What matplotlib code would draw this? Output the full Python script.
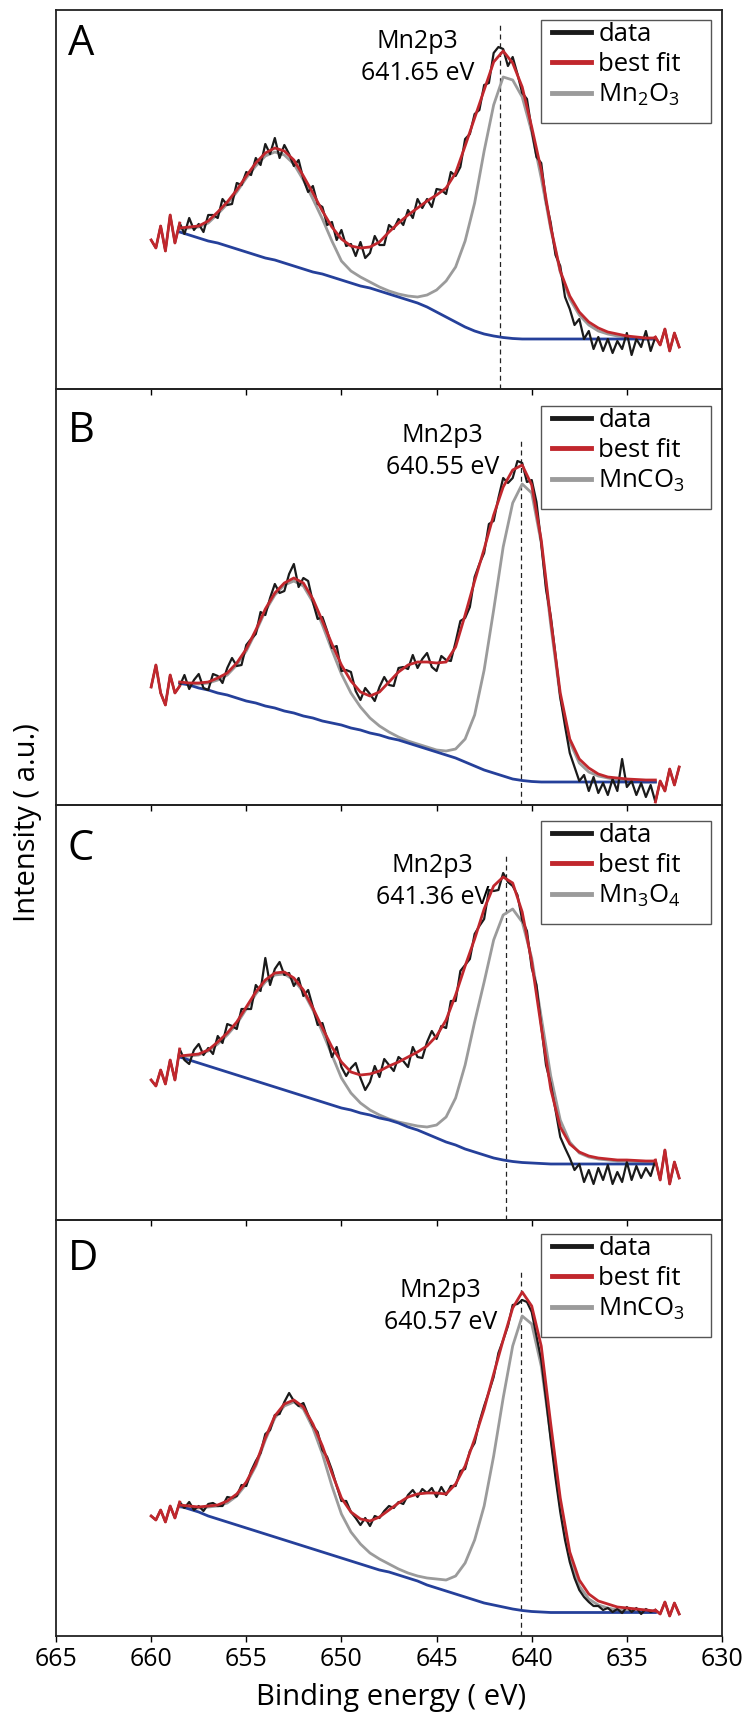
import numpy as np
import matplotlib
matplotlib.use("Agg")
import matplotlib.pyplot as plt
from matplotlib.lines import Line2D
from matplotlib.patches import Rectangle

plt.rcParams['font.family'] = ['Open Sans', 'DejaVu Sans']
plt.rcParams['mathtext.fontset'] = 'custom'
plt.rcParams['mathtext.rm'] = 'Open Sans'
plt.rcParams['mathtext.it'] = 'Open Sans:italic'

# sampling grids (binding energy, eV)
fit_energy = np.arange(658.5, 633.4, -0.5)     # 51 points, fitted curves
data_energy = np.arange(660.0, 632.2, -0.25)   # 112 points, measured spectrum

# ---------------- panel A : Mn2O3 ----------------
data_A = [149, 141, 163, 138, 174, 146, 166, 155,
          171, 159, 165, 157, 174, 174, 171, 190,
          184, 185, 206, 204, 217, 214, 231, 224,
          245, 235, 251, 231, 244, 235, 223, 229,
          210, 197, 203, 185, 182, 164, 167, 149,
          159, 143, 145, 133, 147, 131, 136, 153,
          144, 144, 164, 160, 170, 164, 179, 171,
          190, 181, 190, 182, 200, 199, 195, 217,
          213, 222, 250, 255, 275, 279, 304, 306,
          336, 342, 340, 323, 332, 315, 296, 290,
          259, 232, 226, 188, 166, 134, 123, 92,
          80, 64, 70, 50, 58, 40, 52, 38,
          50, 36, 48, 40, 56, 34, 50, 42,
          58, 38, 52, 44, 60, 38, 56, 42]
fit_A = [161, 162, 163, 168, 177, 187, 199, 213, 226, 236,
         241, 238, 229, 213, 196, 178, 162, 150, 143, 141,
         142, 147, 157, 166, 174, 181, 188, 194, 201, 216,
         243, 271, 299, 327, 338, 326, 302, 262, 219, 162,
         118, 93, 77, 67, 61, 57, 55, 53, 52, 51,
         51]
comp_A = [160, 161, 162, 166, 175, 185, 197, 211, 223, 233,
          237, 234, 225, 209, 190, 170, 148, 128, 118, 112,
          107, 102, 98, 95, 93, 92, 94, 99, 108, 122,
          148, 186, 238, 284, 312, 309, 292, 257, 211, 160,
          117, 90, 74, 64, 58, 55, 53, 52, 51, 50,
          50]
bg_A = [157, 154, 151, 148, 146, 143, 140, 137, 134, 131,
        129, 126, 123, 120, 117, 115, 112, 109, 106, 103,
        101, 98, 95, 92, 89, 86, 82, 77, 72, 67,
        62, 58, 55, 53, 51.5, 50.5, 50, 50, 50, 50,
        50, 50, 50, 50, 50, 50, 50, 50, 50, 50,
        50]

# ---------------- panel B : MnCO3 ----------------
data_B = [118, 140, 112, 100, 130, 112, 119, 130,
          116, 125, 131, 117, 115, 131, 129, 122,
          137, 147, 139, 140, 160, 166, 171, 193,
          190, 207, 221, 212, 214, 231, 241, 218,
          227, 224, 203, 186, 188, 174, 157, 159,
          134, 135, 133, 114, 105, 117, 111, 104,
          118, 128, 120, 119, 137, 138, 136, 150,
          137, 146, 152, 138, 134, 149, 145, 144,
          163, 184, 187, 198, 228, 241, 252, 281,
          284, 307, 327, 322, 327, 344, 342, 323,
          325, 303, 262, 216, 189, 150, 108, 79,
          52, 38, 24, 30, 14, 28, 12, 22,
          10, 26, 14, 46, 18, 24, 10, 22,
          8, 20, 3, 24, 14, 36, 20, 38]
fit_B = [123, 122, 122, 123, 127, 132, 142, 156, 175, 196,
         212, 222, 227, 222, 206, 184, 161, 140, 124, 113,
         109, 113, 123, 133, 140, 143, 143, 142, 143, 158,
         190, 224, 256, 290, 318, 335, 340, 320, 265, 185,
         112, 66, 46, 37, 31, 28, 27, 26, 25.5, 25,
         25]
comp_B = [121, 121, 121, 122, 125, 130, 140, 154, 173, 194,
          210, 220, 224, 219, 203, 180, 155, 131, 112, 98,
          87, 79, 73, 68, 64, 61, 58, 55, 54, 56,
          66, 90, 135, 195, 258, 302, 321, 312, 262, 180,
          108, 63, 42, 33, 29, 27, 25, 24, 23.5, 23,
          23]
bg_B = [122, 120, 117, 115, 112, 110, 107, 104, 102, 99,
        97, 94, 92, 89, 87, 84, 82, 80, 77, 75,
        72, 70, 67, 65, 62, 59, 56, 53, 50, 47,
        43, 39, 35, 32, 29, 26, 24.5, 23.5, 23, 23,
        23, 23, 23, 23, 23, 23, 23, 23, 23, 23,
        23]

# ---------------- panel C : Mn3O4 ----------------
data_C = [140, 134, 150, 136, 160, 140, 171, 160,
          156, 170, 176, 165, 172, 166, 184, 177,
          196, 194, 191, 211, 211, 211, 235, 229,
          262, 235, 251, 258, 245, 247, 234, 242,
          224, 230, 213, 195, 197, 181, 163, 173,
          153, 144, 152, 157, 142, 130, 138, 154,
          143, 161, 155, 149, 163, 159, 153, 173,
          163, 162, 178, 189, 181, 194, 192, 219,
          219, 249, 255, 261, 286, 294, 301, 330,
          329, 330, 347, 338, 334, 325, 300, 289,
          252, 235, 194, 155, 136, 110, 83, 72,
          62, 50, 56, 38, 50, 36, 52, 40,
          55, 36, 48, 38, 58, 40, 54, 42,
          52, 44, 60, 40, 70, 36, 58, 42]
fit_C = [164, 165, 166, 170, 178, 187, 198, 213, 228, 240,
         247, 248, 242, 230, 212, 192, 173, 158, 148, 145,
         146, 149, 154, 158, 163, 168, 174, 184, 200, 225,
         254, 281, 311, 334, 343, 337, 308, 258, 193, 131,
         93, 76, 68, 64, 62, 61, 60, 60, 59.5, 59,
         59]
comp_C = [163, 164, 165, 169, 176, 185, 196, 211, 226, 238,
          245, 246, 240, 228, 210, 188, 165, 142, 127, 117,
          110, 105, 101, 98, 96, 94, 93, 95, 103, 122,
          155, 198, 238, 280, 305, 311, 298, 262, 203, 144,
          100, 78, 67, 63, 61, 60, 59, 59, 58.5, 58,
          58]
bg_C = [163, 160, 157, 154, 151, 148, 145, 142, 139, 136,
        133, 130, 127, 124, 121, 118, 115, 112, 110, 107,
        105, 102, 100, 97, 93, 90, 86, 82, 78, 75,
        71, 68, 65, 62, 60, 58.5, 57.5, 57, 56.5, 56,
        56, 56, 56, 56, 56, 56, 56, 56, 56, 56,
        56]

# ---------------- panel D : MnCO3 ----------------
data_D = [120, 116, 126, 114, 130, 118, 134, 128,
          134, 126, 130, 125, 132, 133, 130, 130,
          139, 138, 140, 151, 150, 165, 175, 183,
          202, 206, 221, 222, 234, 243, 235, 230,
          233, 221, 210, 204, 186, 179, 166, 150,
          135, 135, 124, 118, 111, 118, 110, 120,
          118, 125, 130, 128, 134, 132, 141, 146,
          139, 147, 143, 148, 139, 149, 141, 150,
          150, 165, 167, 185, 193, 214, 230, 244,
          259, 283, 296, 310, 331, 332, 336, 334,
          324, 300, 276, 237, 196, 158, 124, 96,
          74, 58, 46, 39, 34, 30, 30, 26,
          28, 24, 27, 23, 29, 24, 28, 22,
          27, 24, 26, 22, 34, 20, 33, 22]
fit_D = [131, 130, 129, 130, 131, 135, 142, 154, 172, 198,
         220, 232, 236, 229, 212, 190, 163, 138, 124, 117,
         115, 119, 126, 133, 139, 142, 143, 143, 142, 152,
         170, 197, 227, 262, 296, 328, 344, 330, 290, 212,
         138, 84, 56, 42, 35, 32, 29, 28, 27, 26,
         25]
comp_D = [129, 128, 128, 129, 130, 133, 140, 152, 170, 196,
          218, 230, 234, 227, 208, 182, 150, 122, 104, 92,
          83, 77, 72, 67, 63, 60, 58, 57, 56, 60,
          73, 96, 130, 180, 238, 290, 320, 312, 270, 200,
          130, 78, 50, 37, 31, 28, 26, 25, 24.5, 24,
          24]
bg_D = [130, 127, 124, 120, 117, 114, 111, 108, 105, 102,
        99, 96, 93, 90, 87, 84, 81, 78, 75, 72,
        69, 66, 64, 61, 58, 55, 51, 48, 45, 42,
        39, 36, 33, 31, 29, 27, 25.5, 24.5, 24, 23.5,
        23.5, 23.5, 23.5, 23.5, 23.5, 23.5, 23.5, 23.5, 23.5, 23.5,
        23.5]

panel_letters = ['A', 'B', 'C', 'D']
component_names = [r'Mn$_2$O$_3$', r'MnCO$_3$', r'Mn$_3$O$_4$', r'MnCO$_3$']
peak_ev = [641.65, 640.55, 641.36, 640.57]
peak_labels = ['641.65 eV', '640.55 eV', '641.36 eV', '640.57 eV']
x_ticks = [665, 660, 655, 650, 645, 640, 635, 630]

datas = [data_A, data_B, data_C, data_D]
fits = [fit_A, fit_B, fit_C, fit_D]
comps = [comp_A, comp_B, comp_C, comp_D]
bgs = [bg_A, bg_B, bg_C, bg_D]

# layout in pixels of the 755 x 1717 figure
W, H = 755, 1717
x_left, x_right = 56, 722
panel_top = [10, 389, 805, 1220]
panel_bot = [389, 805, 1220, 1636]
legend_gap = [10, 17, 16, 14]
letter_gap = [13, 21, 23, 18]
ann_x = [646.0, 644.7, 645.2, 644.8]
ann_gap = [19, 34, 48, 58]
dash_gap = [13, 49, 50, 52]

c_data = '#1a1a1a'
c_fit = '#c1272d'
c_comp = '#9b9b9b'
c_bg = '#25409a'

fig = plt.figure(figsize=(W / 100, H / 100), dpi=100)
aw = x_right - x_left

for i in range(4):
    h = panel_bot[i] - panel_top[i]
    ax = fig.add_axes([x_left / W, 1 - panel_bot[i] / H, aw / W, h / H])
    ax.patch.set_visible(False)
    d = np.array(datas[i], dtype=float)

    ax.plot(fit_energy, comps[i], color=c_comp, lw=2.0, zorder=2)
    ax.plot(fit_energy, bgs[i], color=c_bg, lw=2.0, zorder=3)
    ax.plot(data_energy, d, color=c_data, lw=1.6, zorder=4)
    ax.plot(fit_energy, fits[i], color=c_fit, lw=2.0, zorder=5)
    left_end = data_energy >= 658.5
    right_end = data_energy <= 633.5
    ax.plot(data_energy[left_end], d[left_end], color=c_fit, lw=2.0, zorder=5)
    ax.plot(data_energy[right_end], d[right_end], color=c_fit, lw=2.0, zorder=5)

    ax.plot([peak_ev[i], peak_ev[i]], [0, h - dash_gap[i]], color='#222222',
            lw=0.9, ls=(0, (4, 3)), zorder=1)
    ax.text(ann_x[i], h - ann_gap[i], 'Mn2p3\n' + peak_labels[i], ha='center',
            va='top', fontsize=18, linespacing=1.35, zorder=6)

    ax.annotate(panel_letters[i], xy=(0, 1), xycoords='axes fraction',
                xytext=(12, -letter_gap[i]), textcoords='offset pixels',
                ha='left', va='top', fontsize=30)

    # legend box
    bx0 = 541 - x_left
    bx1 = 711 - x_left
    btop = h - legend_gap[i]
    ax.add_patch(Rectangle((bx0 / aw, (btop - 103) / h), (bx1 - bx0) / aw, 103 / h,
                           transform=ax.transAxes, fill=False, ec='#555555', lw=1.0,
                           zorder=6))
    handles = [Line2D([], [], color=c_data, lw=3.5),
               Line2D([], [], color=c_fit, lw=3.5),
               Line2D([], [], color=c_comp, lw=3.5)]
    ax.legend(handles, ['data', 'best fit', component_names[i]], loc='upper left',
              bbox_to_anchor=((bx0 + 11) / aw, (btop - 2) / h), borderaxespad=0,
              borderpad=0, frameon=False, fontsize=18.5, handlelength=1.5,
              handletextpad=0.3, labelspacing=0.2)

    ax.set_xlim(665, 630)
    ax.set_ylim(0, h)
    ax.set_yticks([])
    for s in ax.spines.values():
        s.set_linewidth(1.3)
        s.set_color('#222222')
    if i < 3:
        ax.set_xticks(x_ticks[1:-1])
        ax.tick_params(axis='x', direction='out', length=4, width=1,
                       labelbottom=False)
    else:
        ax.set_xticks(x_ticks)
        ax.tick_params(axis='x', direction='out', length=4, width=1,
                       labelsize=18, pad=4)

fig.text((x_left + x_right) / 2 / W + 0.003, 1 - 1705 / H, 'Binding energy ( eV)',
         ha='center', va='baseline', fontsize=21)
fig.text(28 / W, 1 - 823 / H, 'Intensity ( a.u.)', rotation=90, ha='center',
         va='center', fontsize=21)

fig.savefig('out.png', dpi=100)
